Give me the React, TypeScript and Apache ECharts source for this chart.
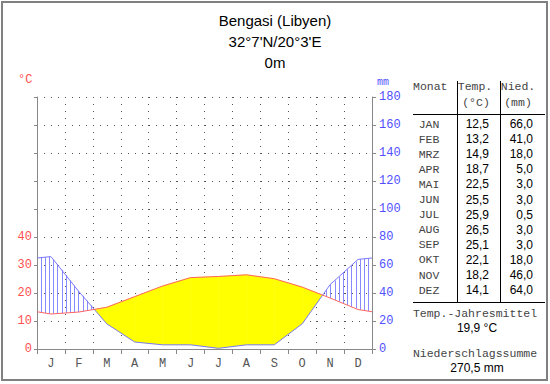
import React, { useEffect, useRef } from 'react';
import * as echarts from 'echarts';

const titleLines = ['Bengasi (Libyen)', "32°7'N/20°3'E", '0m'];
const months = ['JAN', 'FEB', 'MRZ', 'APR', 'MAI', 'JUN', 'JUL', 'AUG', 'SEP', 'OKT', 'NOV', 'DEZ'];
const temps = [12.5, 13.2, 14.9, 18.7, 22.5, 25.5, 25.9, 26.5, 25.1, 22.1, 18.2, 14.1];
const precip = [66.0, 41.0, 18.0, 5.0, 3.0, 3.0, 0.5, 3.0, 3.0, 18.0, 46.0, 64.0];
const tempAxisMax = 90;
const tempLabelMax = 40;
const precipAxisMax = 180;
const precipInterval = 20;
const tempInterval = 10;

const fmt = (v: number) => v.toFixed(1).replace('.', ',');
const MONO = '"Liberation Mono", "DejaVu Sans Mono", monospace';
const SANS = '"Liberation Sans", Arial, sans-serif';

function txt(text: string, x: number, y: number, font: string, fill: string, align: string = 'center') {
  return {
    type: 'text',
    x,
    y,
    silent: true,
    style: {
      text,
      font,
      fill,
      textAlign: align,
      textVerticalAlign: 'middle',
      align,
      verticalAlign: 'middle',
    },
  };
}

function hline(x1: number, x2: number, y: number, color = '#000') {
  return { type: 'line', silent: true, shape: { x1, y1: y, x2, y2: y }, style: { stroke: color, lineWidth: 1 } };
}
function vline(x: number, y1: number, y2: number, color = '#000') {
  return { type: 'line', silent: true, shape: { x1: x, y1, x2: x, y2 }, style: { stroke: color, lineWidth: 1 } };
}

export default function App() {
  const ref = useRef<HTMLDivElement>(null);
  useEffect(() => {
    const chart = echarts.init(ref.current!, null, { renderer: 'svg' });
    const n = months.length;
    const edgeT = (temps[n - 1] + temps[0]) / 2;
    const edgeP = (precip[n - 1] + precip[0]) / 2;
    const xs = [0, ...months.map((_, i) => i + 0.5), n];
    const scaleP = (p: number) => (p <= 100 ? p / 2 : 50 + (p - 100) / 20);
    const tPts = [edgeT, ...temps, edgeT];
    const pPts = [edgeP, ...precip, edgeP].map(scaleP);
    const tempLine = xs.map((x, i) => [x, tPts[i]]);
    const precLine = xs.map((x, i) => [x, pPts[i]]);
    const segs = xs.slice(0, -1).map((_, i) => [i, 0]);

    const hatchSpacing = 4.2;
    const hatchOffset = 3.5;

    const renderItem = (params: any, api: any) => {
      const i = api.value(0);
      const x0 = xs[i], x1 = xs[i + 1];
      const t0 = tPts[i], t1 = tPts[i + 1], p0 = pPts[i], p1 = pPts[i + 1];
      const d0 = t0 - p0, d1 = t1 - p1;
      const parts: number[][] = [];
      if (d0 * d1 < 0) {
        const f = d0 / (d0 - d1);
        parts.push([0, f], [f, 1]);
      } else parts.push([0, 1]);
      const gridLeft = api.coord([0, 0])[0];
      const children: any[] = [];
      parts.forEach(([fa, fb]) => {
        const xa = x0 + (x1 - x0) * fa, xb = x0 + (x1 - x0) * fb;
        const ta = t0 + (t1 - t0) * fa, tb = t0 + (t1 - t0) * fb;
        const pa = p0 + (p1 - p0) * fa, pb = p0 + (p1 - p0) * fb;
        const fm = (fa + fb) / 2;
        const dm = t0 + (t1 - t0) * fm - (p0 + (p1 - p0) * fm);
        if (dm > 0) {
          children.push({
            type: 'polygon',
            shape: { points: [api.coord([xa, ta]), api.coord([xb, tb]), api.coord([xb, pb]), api.coord([xa, pa])] },
            style: { fill: '#ffff00', stroke: '#ffff00', lineWidth: 0.5 },
          });
        } else if (dm < 0) {
          const pxA = api.coord([xa, 0])[0], pxB = api.coord([xb, 0])[0];
          const kStart = Math.ceil((pxA - gridLeft - hatchOffset) / hatchSpacing);
          for (let k = kStart; ; k++) {
            const px = gridLeft + hatchOffset + k * hatchSpacing;
            if (px > pxB) break;
            if (px < pxA) continue;
            const g = (px - pxA) / (pxB - pxA || 1);
            const vx = xa + (xb - xa) * g;
            const yP = api.coord([vx, pa + (pb - pa) * g])[1];
            const yT = api.coord([vx, ta + (tb - ta) * g])[1];
            const rx = Math.round(px) + 0.5;
            children.push({
              type: 'line',
              shape: { x1: rx, y1: yP, x2: rx, y2: yT },
              style: { stroke: '#8a8aff', lineWidth: 1 },
            });
          }
        }
      });
      return { type: 'group', children };
    };

    const meanT = temps.reduce((a, b) => a + b, 0) / n;
    const sumP = precip.reduce((a, b) => a + b, 0);

    const graphics: any[] = [
      { type: 'rect', silent: true, shape: { x: 2, y: 2, width: 545, height: 378 }, style: { fill: 'none', stroke: '#808080', lineWidth: 2 } },
      ...titleLines.map((t, i) => txt(t, 275, 20 + i * 21, `15px ${SANS}`, '#000')),
      txt('°C', 18, 80, `12px ${MONO}`, '#ff5050', 'left'),
      txt('mm', 377, 82, `10px ${MONO}`, '#5050ff', 'left'),
      txt('Monat', 413, 86, `11.5px ${MONO}`, '#444', 'left'),
      txt('Temp.', 475, 86, `11.5px ${MONO}`, '#444'),
      txt('(°C)', 476, 102, `11.5px ${MONO}`, '#444'),
      txt('Nied.', 518, 86, `11.5px ${MONO}`, '#444'),
      txt('(mm)', 518, 102, `11.5px ${MONO}`, '#444'),
      vline(457.5, 81, 302),
      vline(500.5, 81, 302),
      hline(413, 545, 114.5),
      hline(413, 545, 302.5),
      ...months.map((m, i) => txt(m, 429, 124 + i * 15.1, `11.5px ${MONO}`, '#444')),
      ...temps.map((t, i) => txt(fmt(t), 489, 124 + i * 15.1, `12px ${SANS}`, '#000', 'right')),
      ...precip.map((p, i) => txt(fmt(p), 533, 124 + i * 15.1, `12px ${SANS}`, '#000', 'right')),
      txt('Temp.-Jahresmittel', 475, 313, `11.5px ${MONO}`, '#444'),
      txt(`${fmt(meanT)} °C`, 477, 328, `12px ${SANS}`, '#000'),
      txt('Niederschlagssumme', 475, 353, `11.5px ${MONO}`, '#444'),
      txt(`${fmt(sumP)} mm`, 477, 368, `12px ${SANS}`, '#000'),
    ];

    chart.setOption({
      animation: false,
      backgroundColor: '#fff',
      grid: { left: 37, right: 178, top: 97, bottom: 35 },
      xAxis: [
        {
          type: 'category',
          data: months,
          boundaryGap: true,
          axisLine: { show: true, lineStyle: { color: '#888' } },
          axisTick: { show: true, length: 5, interval: 0, lineStyle: { color: '#888' } },
          axisLabel: { interval: 0, formatter: (v: string) => v[0], color: '#555', fontFamily: MONO, fontSize: 12, margin: 9 },
          splitLine: { show: true, interval: 0, lineStyle: { color: '#555', type: [1, 6] } },
        },
        { type: 'value', min: 0, max: n, show: false },
      ],
      yAxis: [
        {
          type: 'value',
          min: 0,
          max: tempAxisMax,
          interval: tempInterval,
          position: 'left',
          axisLine: { show: true, lineStyle: { color: '#888' } },
          axisTick: { show: true, length: 3, lineStyle: { color: '#888' } },
          axisLabel: {
            formatter: (v: number) => (v <= tempLabelMax ? String(v) : ''),
            color: '#ff5050',
            fontFamily: MONO,
            fontSize: 12,
            margin: 5,
          },
          splitLine: { show: true, lineStyle: { color: '#555', type: [1, 6] } },
        },
        {
          type: 'value',
          min: 0,
          max: precipAxisMax,
          interval: precipInterval,
          position: 'right',
          axisLine: { show: true, lineStyle: { color: '#888' } },
          axisTick: { show: true, length: 4, lineStyle: { color: '#888' } },
          axisLabel: { color: '#5050ff', fontFamily: MONO, fontSize: 12, margin: 7 },
          splitLine: { show: false },
        },
      ],
      series: [
        { type: 'custom', xAxisIndex: 1, yAxisIndex: 0, data: segs, renderItem, silent: true, z: 1 },
        {
          type: 'line',
          xAxisIndex: 1,
          yAxisIndex: 0,
          data: precLine,
          symbol: 'none',
          lineStyle: { color: '#7878ff', width: 1 },
          silent: true,
          z: 3,
        },
        {
          type: 'line',
          xAxisIndex: 1,
          yAxisIndex: 0,
          data: tempLine,
          symbol: 'none',
          lineStyle: { color: '#ff6464', width: 1 },
          silent: true,
          z: 4,
        },
      ],
      graphic: graphics,
    });
    return () => chart.dispose();
  }, []);
  return <div ref={ref} style={{ position: 'absolute', left: 0, top: 0, width: 550, height: 384 }} />;
}
